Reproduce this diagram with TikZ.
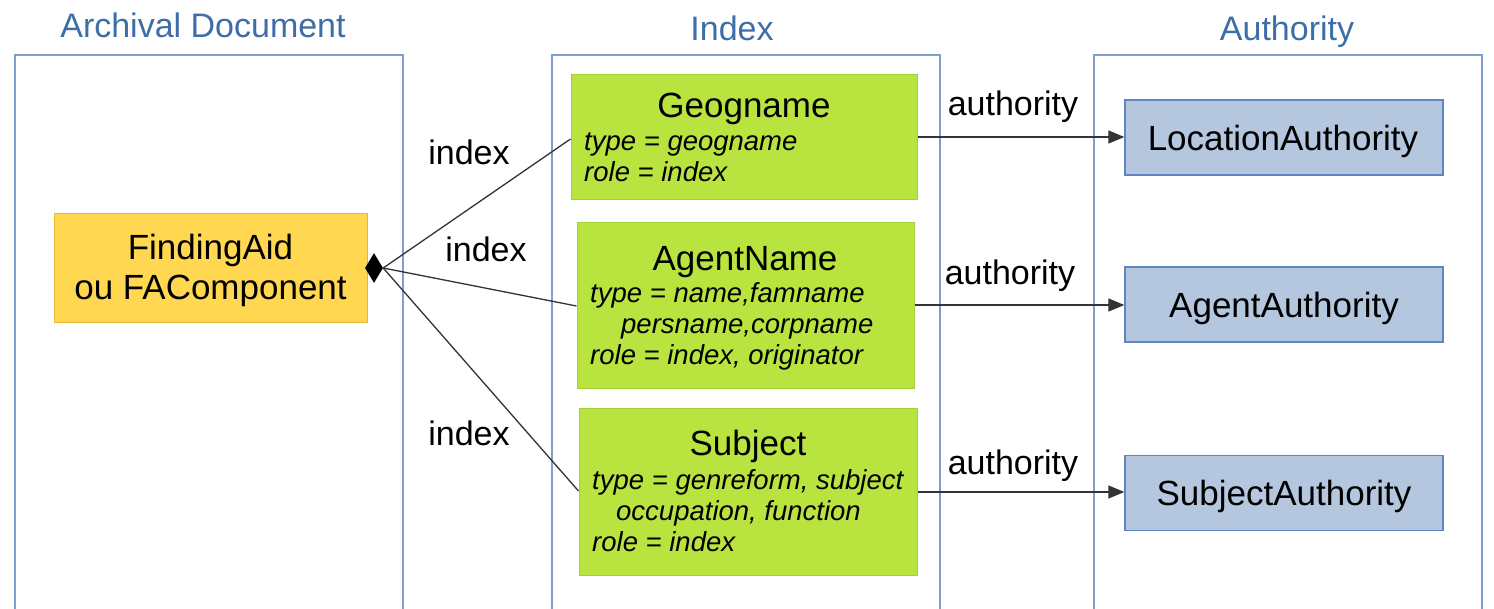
\documentclass[tikz,border=0pt]{standalone}
\usepackage{fontspec}
\setmainfont{Liberation Sans}
\usetikzlibrary{arrows.meta,shapes.geometric}
\definecolor{frameblue}{HTML}{7F9FCC}
\definecolor{titleblue}{HTML}{3D6EA8}
\definecolor{lime}{HTML}{B9E33E}
\definecolor{limeedge}{HTML}{A3CF3A}
\definecolor{gold}{HTML}{FFD750}
\definecolor{goldedge}{HTML}{E8B830}
\definecolor{authfill}{HTML}{B4C7DE}
\definecolor{authedge}{HTML}{5F86C0}
\definecolor{linegray}{HTML}{333333}
\tikzset{
  txt/.style={inner sep=0pt, anchor=base},
  frame/.style={draw=frameblue, line width=1.3pt},
  ttl/.style={txt, text=titleblue, font=\fontsize{34}{40}\selectfont},
  gbox/.style={draw=limeedge, fill=lime, line width=1pt, inner sep=0pt},
  ybox/.style={draw=goldedge, fill=gold, line width=1pt, inner sep=0pt},
  abox/.style={draw=authedge, fill=authfill, line width=1.3pt, inner sep=0pt, minimum width=318pt, minimum height=75pt},
  head/.style={txt, font=\fontsize{35}{40}\selectfont},
  attr/.style={txt, font=\fontsize{27.5}{31}\selectfont\itshape, anchor=base west},
  lbl/.style={txt, font=\fontsize{34}{40}\selectfont},
  conn/.style={draw=linegray, line width=1.3pt},
  auth/.style={conn, -{Triangle[length=16pt,width=13pt]}},
}
\begin{document}
\begin{tikzpicture}[x=1pt,y=-1pt]
\useasboundingbox (0,0) rectangle (1494,608);
% containers
\draw[frame] (15,620) -- (15,55) -- (403,55) -- (403,620);
\draw[frame] (552,620) -- (552,55) -- (940,55) -- (940,620);
\draw[frame] (1094,620) -- (1094,55) -- (1482,55) -- (1482,620);
\node[ttl] (tArch) at (203,37) {Archival Document};
\node[ttl] (tIdx) at (732,40) {Index};
\node[ttl] (tAuth) at (1287,40) {Authority};
% finding aid
\node[ybox, minimum width=313pt, minimum height=109pt] (fa) at (210.5,267.5) {};
\node[head] (fa1) at (210.5,259) {FindingAid};
\node[head] (fa2) at (210.5,299) {ou FAComponent};
\node[diamond, fill=black, minimum width=18pt, minimum height=30pt, inner sep=0pt] (dia) at (374,268) {};
% index boxes
\node[gbox, minimum width=346pt, minimum height=125pt] (geo) at (744,136.5) {};
\node[head] (geoT) at (744,117) {Geogname};
\node[attr] (geo1) at (584,150) {type = geogname};
\node[attr] (geo2) at (584,181) {role = index};

\node[gbox, minimum width=337pt, minimum height=166pt] (agt) at (745.5,305) {};
\node[head] (agtT) at (745,270) {AgentName};
\node[attr] (agt1) at (590,302) {type = name,famname};
\node[attr] (agt2) at (621,333) {persname,corpname};
\node[attr] (agt3) at (590,364) {role = index, originator};

\node[gbox, minimum width=338pt, minimum height=167pt] (sub) at (748,491.5) {};
\node[head] (subT) at (748,455) {Subject};
\node[attr] (sub1) at (592,489) {type = genreform, subject};
\node[attr] (sub2) at (616,520) {occupation, function};
\node[attr] (sub3) at (592,551) {role = index};
% authority boxes
\node[abox] (la) at (1284,137.5) {};
\node[head] (laT) at (1283,150) {LocationAuthority};
\node[abox] (aa) at (1284,304.5) {};
\node[head] (aaT) at (1284,317) {AgentAuthority};
\node[abox] (sa) at (1284,493) {};
\node[head] (saT) at (1284,505) {SubjectAuthority};
% connectors
\draw[conn] (dia.east) -- (geo.west |- 0,139);
\draw[conn] (dia.east) -- (agt.west |- 0,306);
\draw[conn] (dia.east) -- (sub.west |- 0,491);
\draw[auth] (geo.east |- 0,137) -- (la.west |- 0,137);
\draw[auth] (agt.east |- 0,305) -- (aa.west |- 0,305);
\draw[auth] (sub.east |- 0,492) -- (sa.west |- 0,492);
% labels
\node[lbl] (l1) at (469,164) {index};
\node[lbl] (l2) at (486,261) {index};
\node[lbl] (l3) at (469,445) {index};
\node[lbl] (a1) at (1013,115) {authority};
\node[lbl] (a2) at (1010,284) {authority};
\node[lbl] (a3) at (1013,474) {authority};
\end{tikzpicture}
\end{document}
